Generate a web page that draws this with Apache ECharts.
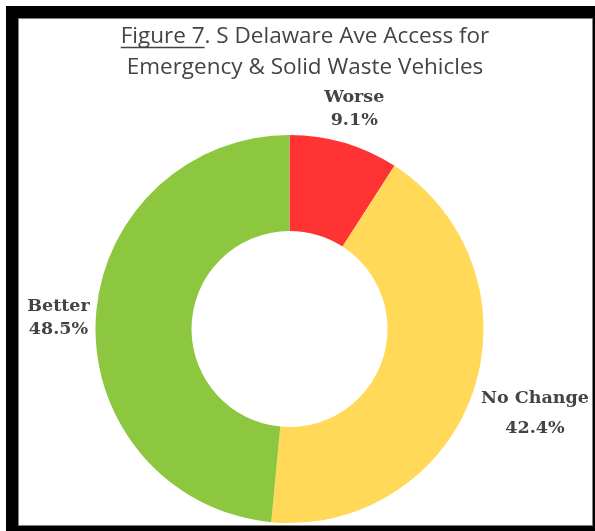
<!DOCTYPE html>
<html>
<head>
<meta charset="utf-8">
<script src="https://cdn.jsdelivr.net/npm/echarts@6/dist/echarts.min.js"></script>
<style>
  html, body { margin: 0; padding: 0; background: #ffffff; }
  #chart { width: 595px; height: 531px; }
</style>
</head>
<body>
<div id="chart"></div>
<script>
// Survey responses: share of answers per category (percent)
const categories = ['Worse', 'No Change', 'Better'];
const shares = [9.1, 42.4, 48.5];
const sliceColors = ['#FF3333', '#FFD957', '#8DC63F'];
const labelLineHeights = [23, 30, 23];

const titleLines = ['Figure 7. S Delaware Ave Access for', 'Emergency & Solid Waste Vehicles'];
const titleUnderlined = 'Figure 7';

// Layout
const CX = 289.5, CY = 329, R_OUT = 194, R_IN = 98;
const LABEL_GAP = 5;
const TITLE_X = 305;
const TITLE_LINE1_WIDTH = 372;
const TEXT_COLOR = '#444444';
const titleFamily = '"Open Sans"';
const labelFontFamily = 'DejaVu Serif';

function textWidth(str, font) {
  const ctx = document.createElement('canvas').getContext('2d');
  ctx.font = font;
  return ctx.measureText(str).width;
}

// Fit the first title line to its intended width
const titleSize = Math.round(20 * TITLE_LINE1_WIDTH / textWidth(titleLines[0], '20px ' + titleFamily) * 2) / 2;
const titleFont = titleSize + 'px ' + titleFamily;

// Mid-angle of each slice as a fraction of the full turn, clockwise from 12 o'clock
const total = shares.reduce((a, b) => a + b, 0);
const midFrac = [];
let acc = 0;
shares.forEach(v => { midFrac.push((acc + v / 2) / total); acc += v; });

const line1Width = textWidth(titleLines[0], titleFont);
const underlineStart = TITLE_X - line1Width / 2;
const underlineEnd = underlineStart + textWidth(titleUnderlined, titleFont);

const chart = echarts.init(document.getElementById('chart'), null, { renderer: 'canvas' });

chart.setOption({
  animation: false,
  backgroundColor: '#ffffff',
  graphic: [
    { type: 'rect', z: -20, silent: true,
      shape: { x: 6, y: 6, width: 620, height: 560 },
      style: { fill: '#000000' } },
    { type: 'rect', z: -19, silent: true,
      shape: { x: 18.5, y: 18.5, width: 574, height: 507 },
      style: { fill: '#ffffff', stroke: '#7f7f7f', lineWidth: 1 } },
    { type: 'text', z: 10, silent: true,
      style: { x: TITLE_X, y: 37, text: titleLines[0], font: titleFont,
               fill: TEXT_COLOR, align: 'center', verticalAlign: 'middle' } },
    { type: 'text', z: 10, silent: true,
      style: { x: TITLE_X, y: 68, text: titleLines[1], font: titleFont,
               fill: TEXT_COLOR, align: 'center', verticalAlign: 'middle' } },
    { type: 'line', z: 10, silent: true,
      shape: { x1: underlineStart, y1: 47.5, x2: underlineEnd, y2: 47.5 },
      style: { stroke: TEXT_COLOR, lineWidth: 1.3 } }
  ],
  series: [{
    type: 'pie',
    center: [CX, CY],
    radius: [R_IN, R_OUT],
    startAngle: 90,
    clockwise: true,
    avoidLabelOverlap: false,
    label: {
      show: true,
      position: 'outside',
      formatter: '{b}\n{c}%',
      fontFamily: labelFontFamily,
      fontWeight: 'bold',
      fontSize: 17.5,
      color: TEXT_COLOR,
      align: 'center'
    },
    labelLine: { show: false },
    labelLayout: function (params) {
      const a = midFrac[params.dataIndex] * 2 * Math.PI;
      const ux = Math.sin(a), uy = -Math.cos(a);
      const w = params.labelRect.width, h = params.labelRect.height;
      const d = R_OUT + LABEL_GAP + Math.abs(ux) * w / 2 + Math.abs(uy) * h / 2;
      return { x: CX + ux * d, y: CY + uy * d, align: 'center', verticalAlign: 'middle' };
    },
    emphasis: { disabled: true },
    itemStyle: { borderWidth: 0 },
    data: categories.map((name, i) => ({
      name: name,
      value: shares[i],
      itemStyle: { color: sliceColors[i] },
      label: { lineHeight: labelLineHeights[i] }
    }))
  }]
});
</script>
</body>
</html>
